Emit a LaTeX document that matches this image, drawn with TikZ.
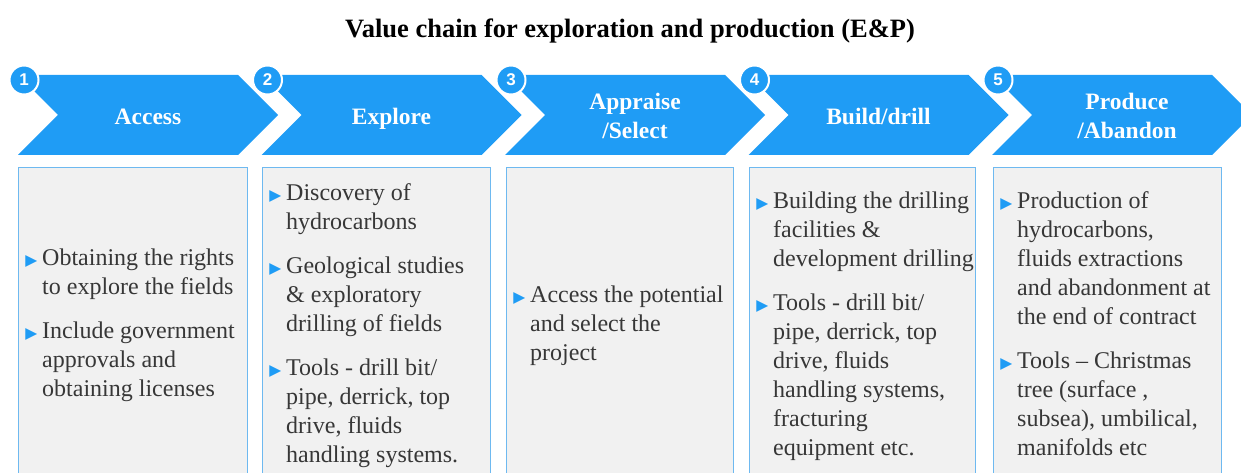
\documentclass[tikz,border=0pt]{standalone}
\usepackage{fontspec}
\setmainfont{Liberation Serif}
\newfontfamily\numfont{Liberation Sans}
\newfontfamily\symfont{DejaVu Sans}
\definecolor{chev}{RGB}{31,156,245}
\definecolor{boxline}{RGB}{110,185,240}
\definecolor{boxfill}{RGB}{241,241,241}
\definecolor{txt}{RGB}{55,55,55}
\newcommand{\bul}{\llap{{\symfont\fontsize{15.5}{15.5}\selectfont\color{chev}▶}\hspace{5pt}}}
\tikzset{
  chevshape/.style={fill=chev, draw=none},
  head/.style={text=white, font=\fontsize{23.5}{29}\selectfont\bfseries, align=center, inner sep=0pt, anchor=base},
  num/.style={circle, fill=chev, draw=white, line width=2pt, minimum size=29pt, inner sep=0pt, text=white, font=\numfont\bfseries\fontsize{17}{17}\selectfont},
  panel/.style={fill=boxfill},
  panelline/.style={draw=boxline, line width=1pt},
  body/.style={text=txt, font=\rmfamily\fontsize{24}{29}\selectfont, align=left, inner sep=0pt, anchor=base west},
  title/.style={font=\fontsize{26.5}{30}\selectfont\bfseries, text=black, inner sep=0pt}
}
\begin{document}
\begin{tikzpicture}[x=1pt,y=-1pt]
\useasboundingbox (0,0) rectangle (1241,473);
\node[title] (title) at (630,31) {Value chain for exploration and production (E\&P)};
% chevrons
\foreach \L in {18,261.5,505,748.5} {
  \fill[chevshape] (\L,75) -- (\L+220,75) -- (\L+260,115) -- (\L+220,155) -- (\L,155) -- (\L+40,115) -- cycle;
}
\fill[chevshape] (992,75) -- (1212,75) -- (1241,104) -- (1241,126) -- (1212,155) -- (992,155) -- (1032,115) -- cycle;
% numbers
\node[num] (n1) at (24,80) {1};
\node[num] (n2) at (267.5,80) {2};
\node[num] (n3) at (511,80) {3};
\node[num] (n4) at (754.5,80) {4};
\node[num] (n5) at (998,80) {5};
% headers (anchor = baseline of last line)
\node[head] (h1) at (148,125) {Access};
\node[head] (h2) at (391.5,125) {Explore};
\node[head] (h3) at (635,139) {Appraise\\/Select};
\node[head] (h4) at (878.5,125) {Build/drill};
\node[head] (h5) at (1127,139) {Produce\\/Abandon};
% panels
\foreach \a/\b in {18/247,262/490,506/733,749/975,993/1221} {
  \fill[panel] (\a,168) rectangle (\b,473);
  \draw[panelline] (\a,473) -- (\a,168) -- (\b,168) -- (\b,473);
}
% texts (anchor = baseline of last line)
\node[body] (t1) at (42,396) {\bul Obtaining the rights\\to explore the fields\\[15pt]\bul Include government\\approvals and\\obtaining licenses};
\node[body] (t2) at (286,462) {\bul Discovery of\\hydrocarbons\\[15pt]\bul Geological studies\\\& exploratory\\drilling of fields\\[15pt]\bul Tools - drill bit/\\pipe, derrick, top\\drive, fluids\\handling systems.};
\node[body] (t3) at (530,360) {\bul Access the potential\\and select the\\project};
\node[body] (t4) at (773,455) {\bul Building the drilling\\facilities \&\\development drilling\\[15pt]\bul Tools - drill bit/\\pipe, derrick, top\\drive, fluids\\handling systems,\\fracturing\\equipment etc.};
\node[body] (t5) at (1017,455) {\bul Production of\\hydrocarbons,\\fluids extractions\\and abandonment at\\the end of contract\\[15pt]\bul Tools – Christmas\\tree (surface ,\\subsea), umbilical,\\manifolds etc};
\end{tikzpicture}
\end{document}
